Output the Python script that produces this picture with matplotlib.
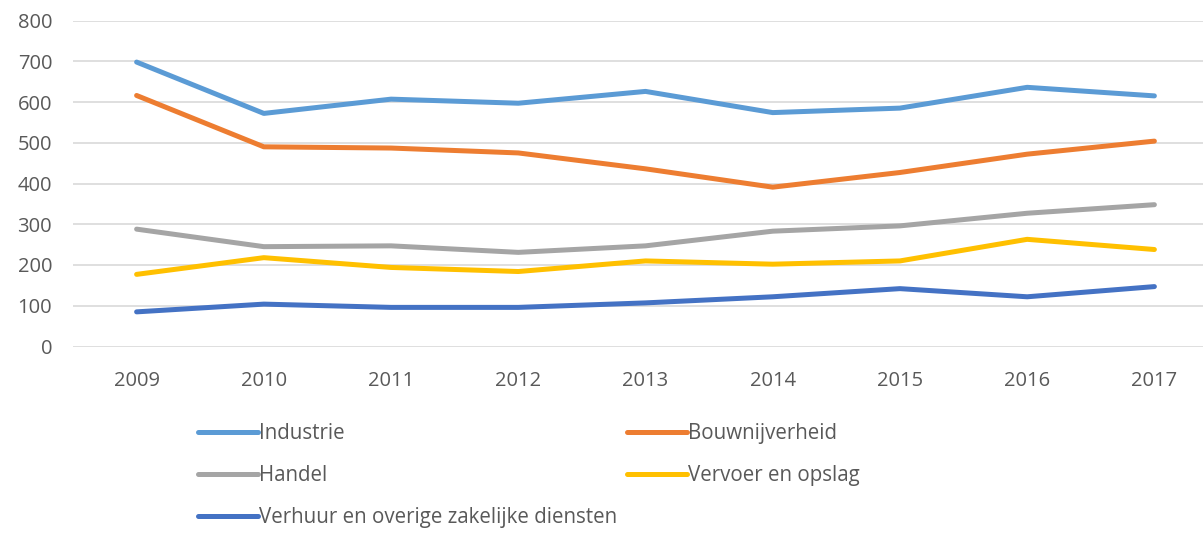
import matplotlib.pyplot as plt
import numpy as np

years = [2009, 2010, 2011, 2012, 2013, 2014, 2015, 2016, 2017]
industrie = [698, 572, 607, 597, 626, 574, 585, 636, 615]
bouwnijverheid = [616, 490, 487, 475, 436, 391, 427, 472, 504]
handel = [288, 245, 247, 231, 247, 283, 296, 327, 348]
vervoer = [177, 218, 194, 184, 210, 202, 210, 263, 238]
verhuur = [85, 104, 96, 96, 107, 122, 142, 122, 147]

labels = ['Industrie', 'Bouwnijverheid', 'Handel', 'Vervoer en opslag',
          'Verhuur en overige zakelijke diensten']
series = [industrie, bouwnijverheid, handel, vervoer, verhuur]
colors = ['#5B9BD5', '#ED7D31', '#A5A5A5', '#FFC000', '#4472C4']

plt.rcParams['font.family'] = ['Open Sans', 'DejaVu Sans']

fig = plt.figure(figsize=(12.03, 5.33), dpi=100)
ax = fig.add_axes([73 / 1203, 1 - 346.5 / 533, 1145 / 1203, 326 / 533])

lines = []
for vals, lab, col in zip(series, labels, colors):
    ln, = ax.plot(years, vals, color=col, lw=3.6, label=lab,
                  solid_capstyle='round', solid_joinstyle='round', zorder=3)
    lines.append(ln)

ax.set_xlim(2008.5, 2017.5)
ax.set_ylim(0, 800)
ax.set_yticks(np.arange(0, 801, 100))
ax.set_xticks(years)
ax.grid(axis='y', color='#D9D9D9', lw=1.2, zorder=0)
for s in ax.spines.values():
    s.set_visible(False)
ax.tick_params(axis='y', length=0, pad=15, labelsize=14.5, labelcolor='#595959')
ax.tick_params(axis='x', length=0, pad=18, labelsize=14.5, labelcolor='#595959')

# legend: rows Industrie/Bouw, Handel/Vervoer, Verhuur
order = [0, 2, 4, 1, 3]
leg = fig.legend([lines[i] for i in order], [labels[i] for i in order],
                 ncol=2, loc='upper left', bbox_to_anchor=(188 / 1203, 1 - 413 / 533),
                 frameon=False, borderpad=0, handlelength=2.9, handletextpad=0.05,
                 columnspacing=0.5, labelspacing=1.02, fontsize=14.8)
for t in leg.get_texts():
    t.set_color('#595959')

fig.savefig('out.png', dpi=100)
